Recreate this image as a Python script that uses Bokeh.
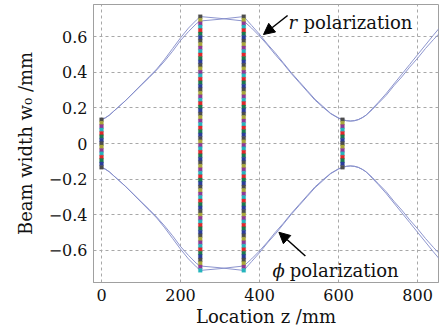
import numpy as np
from bokeh.plotting import figure
from bokeh.models import Label, Arrow, NormalHead, FixedTicker
from bokeh.embed import file_html
from bokeh.resources import INLINE

# ---- data ----
z_mm = [0, 10, 20, 30, 40, 60, 80, 100, 120, 140, 160, 180, 200, 220, 240, 250, 300, 360,
        380, 400, 420, 440, 460, 480, 500, 520, 540, 560, 580, 600, 610, 620, 630, 640,
        650, 660, 670, 685, 700, 720, 740, 760, 780, 800, 820, 840, 855]
w_r = [0.134, 0.145, 0.16, 0.18, 0.2, 0.24, 0.285, 0.33, 0.375, 0.42, 0.475, 0.535, 0.595,
       0.65, 0.695, 0.715, 0.705, 0.69, 0.65, 0.605, 0.555, 0.50, 0.45, 0.395, 0.345, 0.295,
       0.245, 0.205, 0.168, 0.142, 0.134, 0.128, 0.126, 0.128, 0.134, 0.145, 0.16, 0.195,
       0.23, 0.28, 0.335, 0.39, 0.445, 0.50, 0.555, 0.61, 0.65]
w_phi = [0.134, 0.145, 0.16, 0.18, 0.2, 0.24, 0.283, 0.327, 0.37, 0.415, 0.465, 0.52, 0.58,
         0.63, 0.675, 0.69, 0.70, 0.715, 0.665, 0.615, 0.56, 0.51, 0.455, 0.40, 0.35, 0.30,
         0.25, 0.21, 0.17, 0.144, 0.135, 0.129, 0.127, 0.129, 0.135, 0.146, 0.16, 0.19,
         0.225, 0.27, 0.325, 0.375, 0.43, 0.48, 0.535, 0.585, 0.62]
element_z = [0, 250, 360, 610]
element_half = [0.134, 0.715, 0.715, 0.134]
marker_colors = ["#4d4d4d", "#a8a838", "#8e3a96", "#24b4bc", "#e3262b", "#1b7a4e", "#2c3d9c"]
x_ticks = [0, 200, 400, 600, 800]
x_tick_labels = ["0", "200", "400", "600", "800"]
y_ticks = [-0.6, -0.4, -0.2, 0, 0.2, 0.4, 0.6]
y_tick_labels = ["\u22120.6", "\u22120.4", "\u22120.2", "0", "0.2", "0.4", "0.6"]
x_title = "Location z /mm"
y_title = "Beam width w\u2080 /mm"

FONT = "DejaVu Serif"

p = figure(frame_width=345, frame_height=278, x_range=(-20.3, 853), y_range=(-0.783, 0.783),
           output_backend="svg", toolbar_location=None,
           min_border_left=93, min_border_right=7, min_border_top=4, min_border_bottom=49)
p.background_fill_color = "white"
p.border_fill_color = "white"
p.outline_line_color = "#a0a0a0"

for ax in (p.xaxis, p.yaxis):
    ax.axis_line_color = "#a0a0a0"
    ax.major_tick_in = 0
    ax.major_tick_out = 0
    ax.minor_tick_in = 0
    ax.minor_tick_out = 0
    ax.major_label_text_font = FONT
    ax.major_label_text_font_size = "16px"
    ax.major_label_text_color = "#111111"
    ax.axis_label_text_font = FONT
    ax.axis_label_text_font_size = "18px"
    ax.axis_label_text_font_style = "normal"
    ax.axis_label_text_color = "#111111"

p.xaxis.ticker = FixedTicker(ticks=x_ticks)
p.xaxis.major_label_overrides = {t: l for t, l in zip(x_ticks, x_tick_labels)}
p.xaxis.major_label_standoff = 6
p.xaxis.axis_label = x_title
p.xaxis.axis_label_standoff = 2
p.yaxis.ticker = FixedTicker(ticks=y_ticks)
p.yaxis.major_label_overrides = {t: l for t, l in zip(y_ticks, y_tick_labels)}
p.yaxis.major_label_standoff = 6
p.yaxis.axis_label = y_title
p.yaxis.axis_label_standoff = 10

p.xgrid.ticker = FixedTicker(ticks=x_ticks)
p.ygrid.ticker = FixedTicker(ticks=y_ticks)
for g in (p.xgrid, p.ygrid):
    g.grid_line_color = "#a8a8a8"
    g.grid_line_dash = "3 3"
    g.grid_line_width = 1

# beam envelopes
zr = np.array(z_mm, dtype=float)
for w in (w_r, w_phi):
    wa = np.array(w)
    p.line(zr, wa, line_color="#8189c9", line_width=1, line_alpha=0.9)
    p.line(zr, -wa, line_color="#8189c9", line_width=1, line_alpha=0.9)

# element columns of coloured markers
mx, my, mc = [], [], []
for ez, eh in zip(element_z, element_half):
    n = int(round(2 * eh / 0.0196)) + 1
    ys = np.linspace(eh, -eh, n)
    for i, yv in enumerate(ys):
        mx.append(ez)
        my.append(yv)
        mc.append(marker_colors[i % len(marker_colors)])
p.scatter(mx, my, marker="square", size=3.8, fill_color=mc, line_color=mc, line_width=0.3)

# annotations
def lab(x, y, t, size="18px", style="normal", angle=0.0):
    p.add_layout(Label(x=x, y=y, text=t, text_font=FONT, text_font_size=size,
                       text_font_style=style, text_color="#111111",
                       text_align="left", text_baseline="alphabetic", angle=angle))

lab(473.4, 0.682, "r", style="italic")
lab(511.4, 0.682, "polarization")
lab(432.9, -0.7155, "\u03d5", style="italic")
lab(476.7, -0.7155, "polarization")

p.add_layout(Arrow(end=NormalHead(size=11, fill_color="black", line_color="black"),
                   x_start=471, y_start=0.721, x_end=410, y_end=0.614,
                   line_width=1.5, line_color="black"))
p.add_layout(Arrow(end=NormalHead(size=11, fill_color="black", line_color="black"),
                   x_start=516, y_start=-0.634, x_end=449, y_end=-0.50,
                   line_width=1.5, line_color="black"))

open("out.html", "w").write(file_html(p, INLINE))
